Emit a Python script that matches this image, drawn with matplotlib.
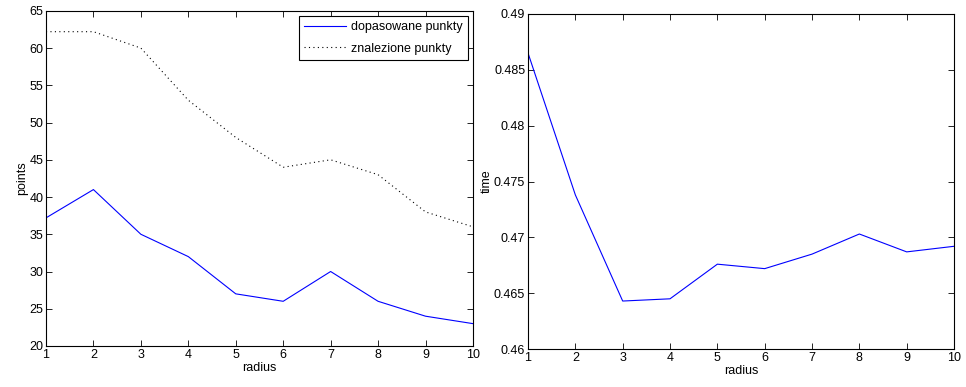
import numpy as np
import matplotlib.pyplot as plt

radius = [1, 2, 3, 4, 5, 6, 7, 8, 9, 10]
dopasowane = [37.2, 41, 35, 32, 27, 26, 30, 26, 24, 23]
znalezione = [62.2, 62.2, 60, 53, 48, 44, 45, 43, 38, 36]
czas = [0.4865, 0.4738, 0.4643, 0.4645, 0.4676, 0.4672, 0.4685, 0.4703, 0.4687, 0.4692]

plt.rcParams['font.family'] = ['Liberation Sans', 'DejaVu Sans']
plt.rcParams['font.size'] = 9

fig = plt.figure(figsize=(9.66, 3.87), dpi=100)
ax = fig.add_axes([0.0476, 0.106, 0.442, 0.866])
ax2 = fig.add_axes([0.5466, 0.098, 0.441, 0.866])

ax.plot(radius, dopasowane, color="blue", lw=0.8, label="dopasowane punkty")
ax.plot(radius, znalezione, color="black", lw=0.8, linestyle=(0, (1, 3)), label="znalezione punkty")
ax.set_xlim(1, 10)
ax.set_ylim(20, 65)
ax.set_yticks(np.arange(20, 66, 5))
ax.set_xlabel("radius", labelpad=1)
ax.set_ylabel("points", labelpad=1)
leg = ax.legend(loc="upper right", fancybox=False, edgecolor="black", borderaxespad=0.4,
                handlelength=3.3, handletextpad=0.4, fontsize=9, borderpad=0.45,
                labelspacing=0.75, framealpha=1)
leg.get_frame().set_linewidth(0.8)

ax2.plot(radius, czas, color="blue", lw=0.8)
ax2.set_xlim(1, 10)
ax2.set_ylim(0.46, 0.49)
ax2.set_yticks([0.46, 0.465, 0.47, 0.475, 0.48, 0.485, 0.49])
ax2.set_yticklabels(["0.46", "0.465", "0.47", "0.475", "0.48", "0.485", "0.49"])
ax2.set_xlabel("radius", labelpad=1)
ax2.set_ylabel("time", labelpad=1)

for a in [ax, ax2]:
    a.set_xticks(radius)
    a.tick_params(direction="in", top=True, right=True, length=4, width=0.6, pad=2, labelsize=9)
    for s in a.spines.values():
        s.set_linewidth(0.8)

plt.savefig("out.png", dpi=100)
